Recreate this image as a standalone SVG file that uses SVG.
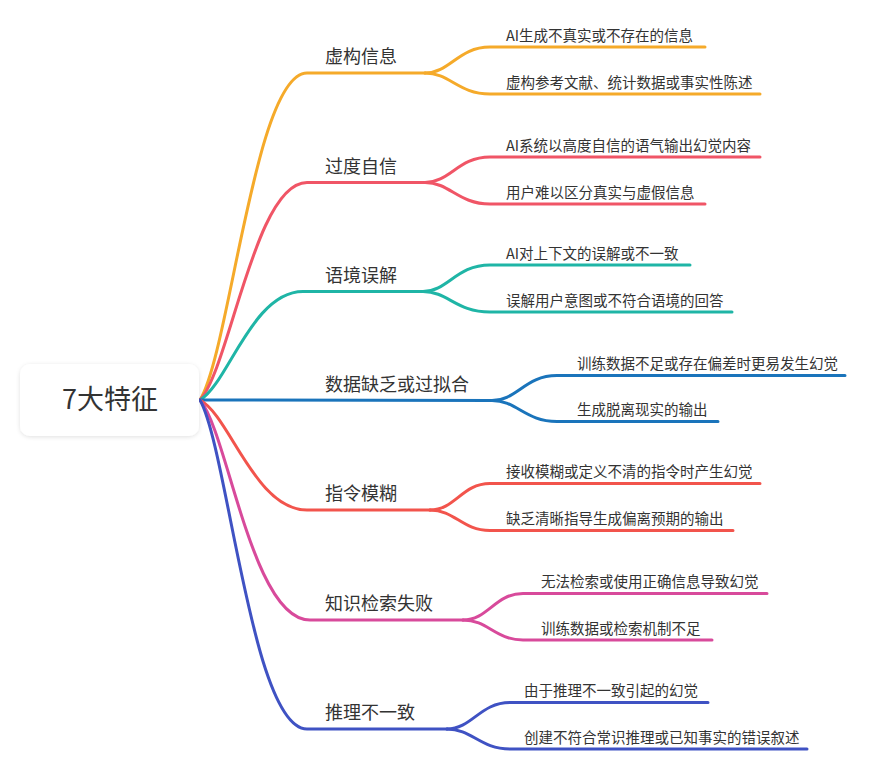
<svg xmlns="http://www.w3.org/2000/svg" width="869" height="762" viewBox="0 0 869 762">
<defs>
<style>
.c{fill:none;stroke-width:3;stroke-linecap:round}
.lbl{font-family:"Noto Sans CJK SC","Noto Sans",sans-serif;font-size:18px;fill:#333}
.sub{font-family:"Noto Sans CJK SC","Noto Sans",sans-serif;font-size:14.5px;fill:#333}
.root{font-family:"Noto Sans CJK SC","Noto Sans",sans-serif;font-size:27px;fill:#333}
.b1{stroke:#F5AA2A}.b2{stroke:#F05566}.b3{stroke:#1FB5A6}.b4{stroke:#1A74BB}.b5{stroke:#F2544C}.b6{stroke:#D84A9B}.b7{stroke:#3F52C3}
</style>
<filter id="sh" x="-20%" y="-30%" width="140%" height="160%">
<feDropShadow dx="0" dy="1" stdDeviation="2" flood-color="#000" flood-opacity="0.12"/>
</filter>
</defs>
<rect width="869" height="762" fill="#fff"/>
<g id="connectors">
<path class="c b1" d="M200,400 C230,351 255,73 307,73 L425,73"/>
<path class="c b1" d="M425,73 C450,73 458,47 490,47 L705,47"/>
<path class="c b1" d="M425,73 C450,73 458,94 490,94 L760,94"/>
<path class="c b2" d="M200,400 C230,367 255,182.5 307,182.5 L425,182.5"/>
<path class="c b2" d="M425,182.5 C450,182.5 458,157 490,157 L760,157"/>
<path class="c b2" d="M425,182.5 C450,182.5 458,204 490,204 L705,204"/>
<path class="c b3" d="M200,400 C228,384 252,291.5 303,291.5 L423,291.5"/>
<path class="c b3" d="M423,291.5 C448,291.5 456,265 490,265 L690,265"/>
<path class="c b3" d="M423,291.5 C448,291.5 456,312 490,312 L732,312"/>
<path class="c b4" d="M200,400 L492,400.5"/>
<path class="c b4" d="M492,400.5 C517,400.5 525,375.5 557,375.5 L845,375.5"/>
<path class="c b4" d="M492,400.5 C517,400.5 525,421.5 557,421.5 L718,421.5"/>
<path class="c b5" d="M200,400 C230,416 255,510 307,510 L430,510"/>
<path class="c b5" d="M430,510 C455,510 462,483.5 490,483.5 L760,483.5"/>
<path class="c b5" d="M430,510 C455,510 462,530.5 490,530.5 L733,530.5"/>
<path class="c b6" d="M200,400 C228,433 252,620 310,620 L463,620"/>
<path class="c b6" d="M463,620 C488,620 495,593.5 523,593.5 L767,593.5"/>
<path class="c b6" d="M463,620 C488,620 495,640 523,640 L712,640"/>
<path class="c b7" d="M200,400 C228,450 252,729 307,729 L447,729"/>
<path class="c b7" d="M447,729 C472,729 480,702.5 510,702.5 L708,702.5"/>
<path class="c b7" d="M447,729 C472,729 480,749 510,749 L807,749"/>
</g>
<g id="root">
<rect x="20" y="364" width="179" height="72" rx="10" fill="#fff" filter="url(#sh)"/>
<text class="root" x="110" y="409" text-anchor="middle">7大特征</text>
</g>
<g id="n1"><text class="lbl" x="325" y="63">虚构信息</text></g>
<g id="n1a"><text class="sub" x="506" y="41">AI生成不真实或不存在的信息</text></g>
<g id="n1b"><text class="sub" x="506" y="88">虚构参考文献、统计数据或事实性陈述</text></g>
<g id="n2"><text class="lbl" x="325" y="173">过度自信</text></g>
<g id="n2a"><text class="sub" x="506" y="151">AI系统以高度自信的语气输出幻觉内容</text></g>
<g id="n2b"><text class="sub" x="506" y="198">用户难以区分真实与虚假信息</text></g>
<g id="n3"><text class="lbl" x="325" y="282">语境误解</text></g>
<g id="n3a"><text class="sub" x="506" y="259">AI对上下文的误解或不一致</text></g>
<g id="n3b"><text class="sub" x="506" y="306">误解用户意图或不符合语境的回答</text></g>
<g id="n4"><text class="lbl" x="325" y="391">数据缺乏或过拟合</text></g>
<g id="n4a"><text class="sub" x="577" y="369">训练数据不足或存在偏差时更易发生幻觉</text></g>
<g id="n4b"><text class="sub" x="577" y="415">生成脱离现实的输出</text></g>
<g id="n5"><text class="lbl" x="325" y="500">指令模糊</text></g>
<g id="n5a"><text class="sub" x="506" y="477">接收模糊或定义不清的指令时产生幻觉</text></g>
<g id="n5b"><text class="sub" x="506" y="524">缺乏清晰指导生成偏离预期的输出</text></g>
<g id="n6"><text class="lbl" x="325" y="610">知识检索失败</text></g>
<g id="n6a"><text class="sub" x="541" y="587">无法检索或使用正确信息导致幻觉</text></g>
<g id="n6b"><text class="sub" x="541" y="634">训练数据或检索机制不足</text></g>
<g id="n7"><text class="lbl" x="325" y="719">推理不一致</text></g>
<g id="n7a"><text class="sub" x="524" y="696">由于推理不一致引起的幻觉</text></g>
<g id="n7b"><text class="sub" x="524" y="743">创建不符合常识推理或已知事实的错误叙述</text></g>
</svg>
